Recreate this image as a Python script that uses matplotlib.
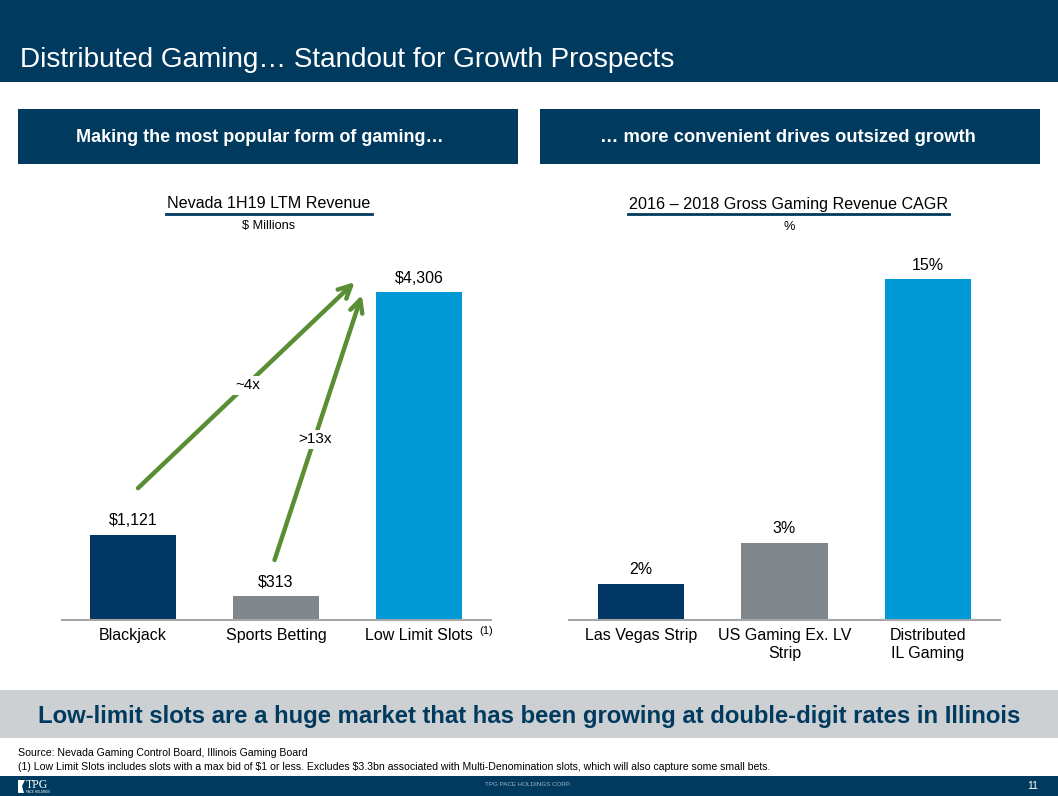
import matplotlib
matplotlib.use("Agg")
import matplotlib.pyplot as plt
from matplotlib.patches import Rectangle, Polygon
from matplotlib.lines import Line2D

plt.rcParams['font.family'] = ['Liberation Sans', 'DejaVu Sans']
plt.rcParams['text.parse_math'] = False

# ---------------- data ----------------
left_categories = ["Blackjack", "Sports Betting", "Low Limit Slots"]
left_values = [1121, 313, 4306]
right_categories = ["Las Vegas Strip", "US Gaming Ex. LV\nStrip", "Distributed\nIL Gaming"]
right_values = [1.6, 3.4, 15.0]
multiples = ["~4x", ">13x"]

title = "Distributed Gaming\u2026 Standout for Growth Prospects"
left_header = "Making the most popular form of gaming\u2026"
right_header = "\u2026 more convenient drives outsized growth"
left_subtitle = "Nevada 1H19 LTM Revenue"
left_unit = "$ Millions"
right_subtitle = "2016 \u2013 2018 Gross Gaming Revenue CAGR"
right_unit = "%"
banner = "Low-limit slots are a huge market that has been growing at double-digit rates in Illinois"
source = "Source: Nevada Gaming Control Board, Illinois Gaming Board"
footnote = ("(1) Low Limit Slots includes slots with a max bid of $1 or less. Excludes $3.3bn associated "
            "with Multi-Denomination slots, which will also capture some small bets.")
footer_center = "TPG PACE HOLDINGS CORP."
page_no = "11"

# ---------------- style ----------------
NAVY = "#003A5E"
BAR_NAVY = "#003764"
GRAY = "#7F868C"
BLUE = "#0099D6"
GREEN = "#5A8E35"
BANNER = "#CDD0D3"
AXIS_GRAY = "#A6A6A6"
bar_colors = [BAR_NAVY, GRAY, BLUE]

W, H = 1058, 796
fig = plt.figure(figsize=(W / 100, H / 100), dpi=100)
fig.patch.set_facecolor("white")


def fx(x):
    return x / W


def fy(y):
    return 1 - y / H


def frect(x0, y0, x1, y1, color):
    fig.add_artist(Rectangle((fx(x0), fy(y1)), fx(x1) - fx(x0), fy(y0) - fy(y1),
                             transform=fig.transFigure, facecolor=color,
                             edgecolor="none", zorder=0))


# header
frect(0, 0, W, 82, NAVY)
fig.text(fx(20), fy(60), title, color="white", fontsize=20.1, va="center", ha="left")

# panel headers
frect(18, 109, 518, 164, NAVY)
frect(540, 109, 1040, 164, NAVY)
fig.text(fx(260), fy(137), left_header, color="white", fontsize=13, fontweight="bold",
         ha="center", va="center")
fig.text(fx(788), fy(137), right_header, color="white", fontsize=13.2, fontweight="bold",
         ha="center", va="center")

# subtitles
fig.text(fx(269), fy(204), left_subtitle, fontsize=11.6, ha="center", va="center", color="black")
fig.add_artist(Line2D([fx(166), fx(372)], [fy(214), fy(214)], color=NAVY, lw=2,
                      transform=fig.transFigure))
fig.text(fx(269), fy(226), left_unit, fontsize=9.2, ha="center", va="center", color="black")
fig.text(fx(789), fy(204), right_subtitle, fontsize=11.6, ha="center", va="center", color="black")
fig.add_artist(Line2D([fx(628), fx(949)], [fy(214), fy(214)], color=NAVY, lw=2,
                      transform=fig.transFigure))
fig.text(fx(789), fy(227), right_unit, fontsize=9.2, ha="center", va="center", color="black")


def setup_axes(ax):
    for s in ["top", "right", "left"]:
        ax.spines[s].set_visible(False)
    ax.spines["bottom"].set_color(AXIS_GRAY)
    ax.spines["bottom"].set_linewidth(1.5)
    ax.set_yticks([])
    ax.tick_params(axis="x", length=0, pad=6, labelsize=11.5)
    ax.patch.set_alpha(0)


# left chart
axL = fig.add_axes([fx(61.5), fy(620), fx(490.5) - fx(61.5), fy(250) - fy(620)])
xL = list(range(len(left_values)))
axL.bar(xL, left_values, width=0.6, color=bar_colors)
axL.set_xlim(-0.5, 2.5)
axL.set_ylim(0, 4306 * 370 / 328)
axL.set_xticks(xL)
axL.set_xticklabels(left_categories)
setup_axes(axL)
for x, v in zip(xL, left_values):
    axL.annotate(f"${v:,}", (x, v), xytext=(0, 4.5), textcoords="offset points",
                 ha="center", va="bottom", fontsize=11.5)
fig.text(fx(486), fy(631), "(1)", fontsize=8, ha="center", va="center")

# growth arrows
arrow_style = dict(arrowstyle="->,head_length=0.9,head_width=0.45", color=GREEN, lw=3.2,
                   shrinkA=0, shrinkB=0)
axL.annotate("", xy=(1.55, left_values[2] + 130), xytext=(0.035, left_values[0] + 610),
             arrowprops=arrow_style, zorder=3)
axL.annotate("", xy=(1.60, left_values[2] - 40), xytext=(0.99, left_values[1] + 475),
             arrowprops=arrow_style, zorder=3)
axL.text(0.80, 3080, multiples[0], fontsize=11, ha="center", va="center", zorder=4,
         bbox=dict(facecolor="white", edgecolor="none", pad=1.5))
axL.text(1.27, 2370, multiples[1], fontsize=11, ha="center", va="center", zorder=4,
         bbox=dict(facecolor="white", edgecolor="none", pad=1.5))

# right chart
axR = fig.add_axes([fx(569.25), fy(620), fx(999.75) - fx(569.25), fy(250) - fy(620)])
xR = list(range(len(right_values)))
axR.bar(xR, right_values, width=0.6, color=bar_colors)
axR.set_xlim(-0.5, 2.5)
axR.set_ylim(0, 15.0 * 370 / 341)
axR.set_xticks(xR)
axR.set_xticklabels(right_categories)
setup_axes(axR)
for x, v in zip(xR, right_values):
    axR.annotate(f"{v:.0f}%", (x, v), xytext=(0, 4.5), textcoords="offset points",
                 ha="center", va="bottom", fontsize=11.5)

# banner
frect(0, 690, W, 738, BANNER)
fig.text(fx(529), fy(716), banner, fontsize=17.2, fontweight="bold", color=NAVY,
         ha="center", va="center")

# footnotes
fig.text(fx(18), fy(753), source, fontsize=7.6, ha="left", va="center")
fig.text(fx(18), fy(767), footnote, fontsize=7.6, ha="left", va="center")

# footer
frect(0, 776, W, H, NAVY)
fig.text(fx(528), fy(785), footer_center, fontsize=4.5, color="#9FB3C8", ha="center", va="center")
fig.text(fx(1033), fy(786), page_no, fontsize=7.5, color="white", ha="center", va="center")
fig.add_artist(Polygon([[fx(18), fy(780)], [fx(25), fy(780)], [fx(22), fy(786)],
                        [fx(24), fy(793)], [fx(18), fy(793)]],
                       closed=True, transform=fig.transFigure, facecolor="white",
                       edgecolor="none"))
fig.text(fx(26), fy(785), "TPG", fontsize=8.5, color="white", ha="left", va="center",
         family=["Liberation Serif", "DejaVu Serif"])
fig.text(fx(26), fy(792), "PACE HOLDINGS", fontsize=2.2, color="white", ha="left", va="center")

fig.savefig("out.png", dpi=100)
